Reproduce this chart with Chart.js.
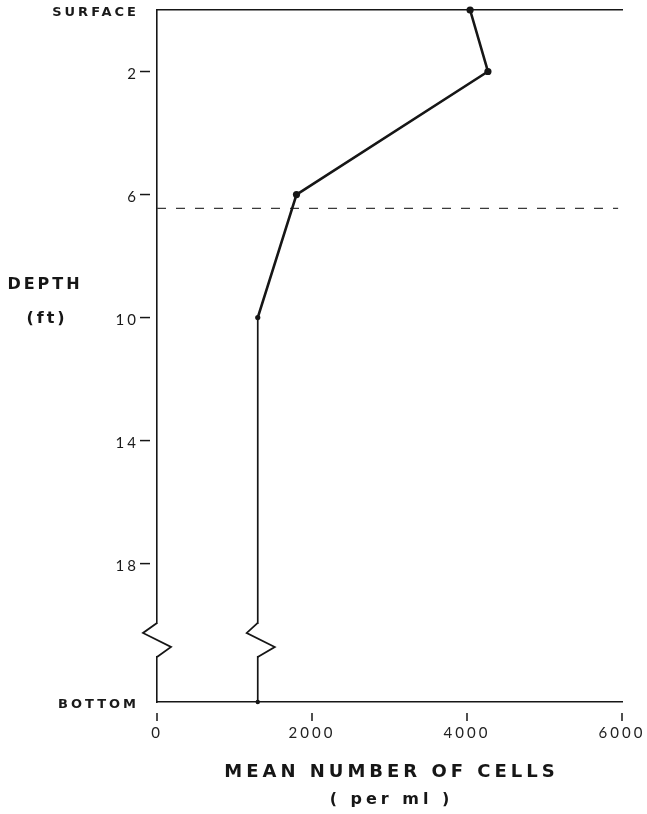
<!DOCTYPE html>
<html>
<head>
<meta charset="utf-8">
<script src="https://cdn.jsdelivr.net/npm/chart.js@4.4.1/dist/chart.umd.min.js"></script>
<style>
  html, body { margin: 0; padding: 0; background: #fff; }
  #wrap { width: 647px; height: 814px; }
</style>
</head>
<body>
<div id="wrap"><canvas id="c" width="647" height="814"></canvas></div>
<script>
// Depth profile of mean cell counts
const depthsFt = [0, 2, 6, 10, 22.5];
const meanCells = [4040, 4270, 1800, 1300, 1300];

const depthTicks = [0, 2, 6, 10, 14, 18, 22.5];
const depthTickLabels = ['SURFACE', '2', '6', '10', '14', '18', 'BOTTOM'];
const cellTicks = [0, 2000, 4000, 6000];

const thermoclineDepth = 6.45;      // dashed reference line
const thermoclineSpan = [0, 5950];
const breakDepth = 19.93;           // where the depth axis is broken

const xTitle = ['MEAN NUMBER OF CELLS', '( per ml )'];
const yTitle = ['DEPTH', '(ft)'];

const INK = '#161616';

// letter spacing for all canvas text
const spacingPlugin = {
  id: 'spacing',
  beforeLayout(chart) { chart.ctx.letterSpacing = '3px'; },
  beforeDraw(chart) { chart.ctx.letterSpacing = '3px'; }
};

// keep the plot area fixed: no extra room reserved for edge labels
const noEdgePadding = s => {
  s.paddingLeft = 0; s.paddingRight = 0; s.paddingTop = 0; s.paddingBottom = 0;
};

// detached tick marks, axis breaks and the axis titles
const decorPlugin = {
  id: 'decor',
  afterDraw(chart) {
    const { ctx, chartArea: a, scales } = chart;
    const xs = scales.x, ys = scales.y;
    ctx.save();
    ctx.strokeStyle = INK;
    ctx.lineWidth = 1.5;
    // x tick marks below the axis
    cellTicks.forEach(v => {
      const px = xs.getPixelForValue(v);
      ctx.beginPath();
      ctx.moveTo(px, a.bottom + 11);
      ctx.lineTo(px, a.bottom + 19);
      ctx.stroke();
    });
    // y tick dashes left of the axis
    depthTicks.slice(1, -1).forEach(v => {
      const py = ys.getPixelForValue(v);
      ctx.beginPath();
      ctx.moveTo(a.left - 17, py);
      ctx.lineTo(a.left - 7, py);
      ctx.stroke();
    });
    // break symbols on the axis and on the profile line
    const y0 = ys.getPixelForValue(breakDepth);
    const h = 34;
    const breaks = [
      { x: a.left, l: 14, r: 14, w: 1.8 },
      { x: xs.getPixelForValue(meanCells[meanCells.length - 1]), l: 11, r: 17, w: 1.8 }
    ];
    breaks.forEach(b => {
      ctx.fillStyle = '#fff';
      ctx.fillRect(b.x - 3, y0 + 1, 6, h - 2);
      ctx.lineWidth = b.w;
      ctx.lineJoin = 'miter';
      ctx.beginPath();
      ctx.moveTo(b.x, y0);
      ctx.lineTo(b.x - b.l, y0 + 10);
      ctx.lineTo(b.x + b.r, y0 + 24);
      ctx.lineTo(b.x, y0 + h);
      ctx.stroke();
    });
    // titles
    ctx.fillStyle = INK;
    ctx.textAlign = 'center';
    ctx.textBaseline = 'middle';
    const cx = (a.left + a.right) / 2;
    ctx.letterSpacing = '4px';
    ctx.font = 'bold 18px "DejaVu Sans"';
    ctx.fillText(xTitle[0], cx + 2, a.bottom + 70);
    ctx.font = 'bold 16px "DejaVu Sans"';
    ctx.fillText(xTitle[1], cx + 2, a.bottom + 98);
    ctx.letterSpacing = '3px';
    ctx.font = 'bold 16px "DejaVu Sans"';
    ctx.fillText(yTitle[0], 45, ys.getPixelForValue(8.95));
    ctx.fillText(yTitle[1], 47, ys.getPixelForValue(10.05));
    ctx.restore();
  }
};

const profile = depthsFt.map((d, i) => ({ x: meanCells[i], y: d }));
const thermocline = thermoclineSpan.map(v => ({ x: v, y: thermoclineDepth }));

new Chart(document.getElementById('c'), {
  type: 'line',
  data: {
    datasets: [
      {
        data: profile,
        borderColor: INK,
        backgroundColor: INK,
        borderWidth: 2.6,
        tension: 0,
        clip: false,
        pointRadius: [3.6, 3.6, 3.6, 2.6, 2.2],
        pointBorderWidth: 0,
        pointBackgroundColor: INK,
        segment: {
          borderWidth: c => (c.p0DataIndex >= 3 ? 1.7 : 2.6)
        }
      },
      {
        data: thermocline,
        borderColor: '#3a3a3a',
        borderWidth: 1.2,
        borderDash: [9, 10],
        pointRadius: 0,
        tension: 0
      }
    ]
  },
  options: {
    responsive: false,
    animation: false,
    devicePixelRatio: 1,
    layout: { padding: { top: 10, right: 25, left: 0, bottom: 0 } },
    plugins: { legend: { display: false }, tooltip: { enabled: false } },
    scales: {
      x: {
        type: 'linear',
        position: 'bottom',
        min: 0,
        max: 6000,
        afterBuildTicks: s => { s.ticks = cellTicks.map(v => ({ value: v })); },
        afterFit: s => { s.height = 112; noEdgePadding(s); },
        grid: { display: false, drawTicks: false },
        border: { display: true, color: INK, width: 1.6 },
        ticks: {
          padding: 22,
          color: '#222',
          font: { family: 'Lato', size: 15 },
          maxRotation: 0,
          callback: v => String(v)
        }
      },
      xTop: {
        type: 'linear',
        position: 'top',
        min: 0,
        max: 6000,
        afterFit: s => { s.height = 0; noEdgePadding(s); },
        grid: { display: false, drawTicks: false },
        border: { display: true, color: INK, width: 1.6 },
        ticks: { display: false }
      },
      y: {
        type: 'linear',
        position: 'left',
        reverse: true,
        min: 0,
        max: 22.5,
        afterBuildTicks: s => { s.ticks = depthTicks.map(v => ({ value: v })); },
        afterFit: s => { s.width = 157; noEdgePadding(s); },
        grid: { display: false, drawTicks: false },
        border: { display: true, color: INK, width: 1.6 },
        ticks: {
          padding: 18,
          labelOffset: 3,
          color: '#1a1a1a',
          font: c => (c.index === 0 || c.index === depthTicks.length - 1)
            ? { family: '"DejaVu Sans"', size: 13, weight: 'bold' }
            : { family: 'Lato', size: 15 },
          callback: (v, i) => depthTickLabels[i]
        }
      }
    }
  },
  plugins: [spacingPlugin, decorPlugin]
});
</script>
</body>
</html>
